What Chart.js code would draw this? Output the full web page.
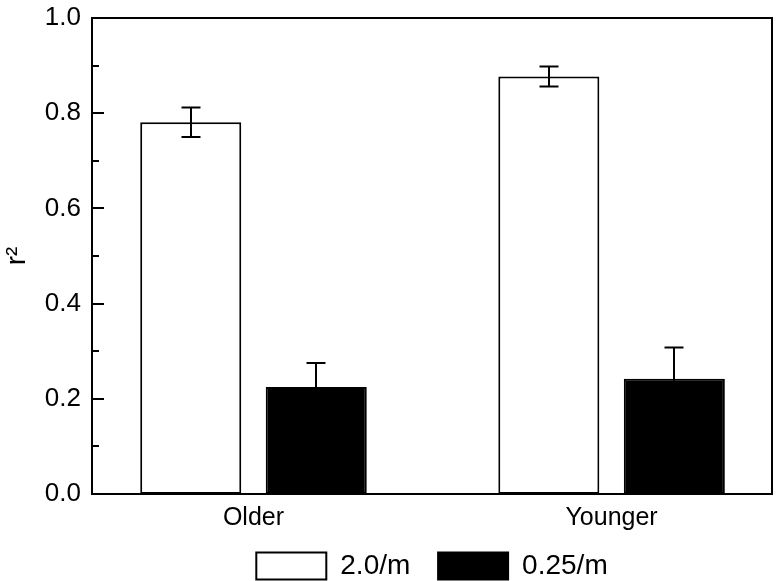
<!DOCTYPE html>
<html>
<head>
<meta charset="utf-8">
<script src="https://cdn.jsdelivr.net/npm/chart.js@4/dist/chart.umd.min.js"></script>
<style>
  html, body { margin: 0; padding: 0; background: #fff; }
  #wrap { width: 776px; height: 581px; }
</style>
</head>
<body>
<div id="wrap"><canvas id="chart"></canvas></div>
<script>
const categories = ["Older", "Younger"];
const seriesLabels = ["2.0/m", "0.25/m"];
const values2m = [0.781, 0.877];
const errors2m = [0.031, 0.021];
const values025m = [0.225, 0.242];
const errors025m = [0.050, 0.066];
const yTicks = [0.0, 0.2, 0.4, 0.6, 0.8, 1.0];

const FONT = "'Liberation Sans', Arial, Helvetica, sans-serif";

// full box around the plot + inward ticks on the y axis
const frameAndTicks = {
    id: "frameAndTicks",
    afterDraw(chart) {
        const { ctx, chartArea: a } = chart;
        const y = chart.scales.y;
        ctx.save();
        ctx.strokeStyle = "#000";
        ctx.lineWidth = 2;
        ctx.strokeRect(a.left, a.top, a.right - a.left, a.bottom - a.top);
        ctx.beginPath();
        for (let i = 1; i < 10; i++) {
            const py = Math.round(y.getPixelForValue(i / 10));
            const len = i % 2 === 0 ? 12 : 7;
            ctx.moveTo(a.left, py);
            ctx.lineTo(a.left + len, py);
        }
        ctx.stroke();
        ctx.restore();
    },
};

const errorBars = {
    id: "errorBars",
    afterDatasetsDraw(chart) {
        const { ctx } = chart;
        const y = chart.scales.y;
        const errs = [errors2m, errors025m];
        const vals = [values2m, values025m];
        ctx.save();
        ctx.strokeStyle = "#000";
        ctx.lineWidth = 2;
        chart.data.datasets.forEach((ds, i) => {
            const meta = chart.getDatasetMeta(i);
            meta.data.forEach((bar, j) => {
                const x = Math.round(bar.x);
                const top = y.getPixelForValue(vals[i][j] + errs[i][j]);
                const bot = y.getPixelForValue(vals[i][j] - errs[i][j]);
                ctx.beginPath();
                ctx.moveTo(x, top);
                ctx.lineTo(x, bot);
                ctx.moveTo(x - 9.5, top);
                ctx.lineTo(x + 9.5, top);
                ctx.moveTo(x - 9.5, bot);
                ctx.lineTo(x + 9.5, bot);
                ctx.stroke();
            });
        });
        ctx.restore();
    },
};

new Chart(document.getElementById("chart"), {
    type: "bar",
    data: {
        datasets: [
            {
                label: seriesLabels[0],
                data: categories.map((c, i) => ({ x: i + 1, y: values2m[i] })),
                backgroundColor: "#fff",
                borderColor: "#000",
                borderWidth: 2,
                borderSkipped: false,
            },
            {
                label: seriesLabels[1],
                data: categories.map((c, i) => ({ x: i + 1, y: values025m[i] })),
                backgroundColor: "#000",
                borderColor: "#000",
                borderWidth: 2,
                borderSkipped: false,
            },
        ],
    },
    options: {
        responsive: true,
        maintainAspectRatio: false,
        animation: false,
        categoryPercentage: 0.701,
        barPercentage: 0.805,
        layout: { padding: { top: 18, right: 4, left: 0, bottom: 0 } },
        scales: {
            x: {
                type: "linear",
                min: 0.549,
                max: 2.448,
                offset: false,
                grid: { display: false, drawTicks: false },
                border: { display: false },
                afterBuildTicks: (scale) => {
                    scale.ticks = categories.map((c, i) => ({ value: i + 1 }));
                },
                afterFit: (scale) => {
                    scale.height = 38;
                    scale.paddingLeft = scale.paddingRight = 0;
                },
                ticks: {
                    autoSkip: false,
                    maxRotation: 0,
                    padding: 9,
                    color: "#000",
                    font: { family: FONT, size: 25 },
                    callback: (v) => categories[v - 1],
                },
            },
            y: {
                min: 0,
                max: 1,
                grid: { display: false, drawTicks: false },
                border: { display: false },
                afterBuildTicks: (scale) => {
                    scale.ticks = yTicks.map((v) => ({ value: v }));
                },
                afterFit: (scale) => {
                    scale.width = 92;
                    scale.paddingTop = scale.paddingBottom = 0;
                },
                ticks: {
                    padding: 11,
                    color: "#000",
                    font: { family: FONT, size: 26 },
                    callback: (v) => v.toFixed(1),
                },
                title: {
                    display: true,
                    text: "r²",
                    color: "#000",
                    padding: { top: 0, bottom: 0 },
                    font: { family: FONT, size: 28 },
                },
            },
        },
        plugins: {
            legend: {
                position: "bottom",
                fullSize: false,
                maxHeight: 49,
                labels: {
                    boxWidth: 70,
                    boxHeight: 27,
                    padding: 20,
                    color: "#000",
                    font: { family: FONT, size: 28 },
                    generateLabels: (chart) => {
                        const items = Chart.defaults.plugins.legend.labels.generateLabels(chart);
                        items[0].text += " "; // a bit more room before the second item
                        return items;
                    },
                },
            },
            tooltip: { enabled: false },
        },
    },
    plugins: [errorBars, frameAndTicks],
});
</script>
</body>
</html>
